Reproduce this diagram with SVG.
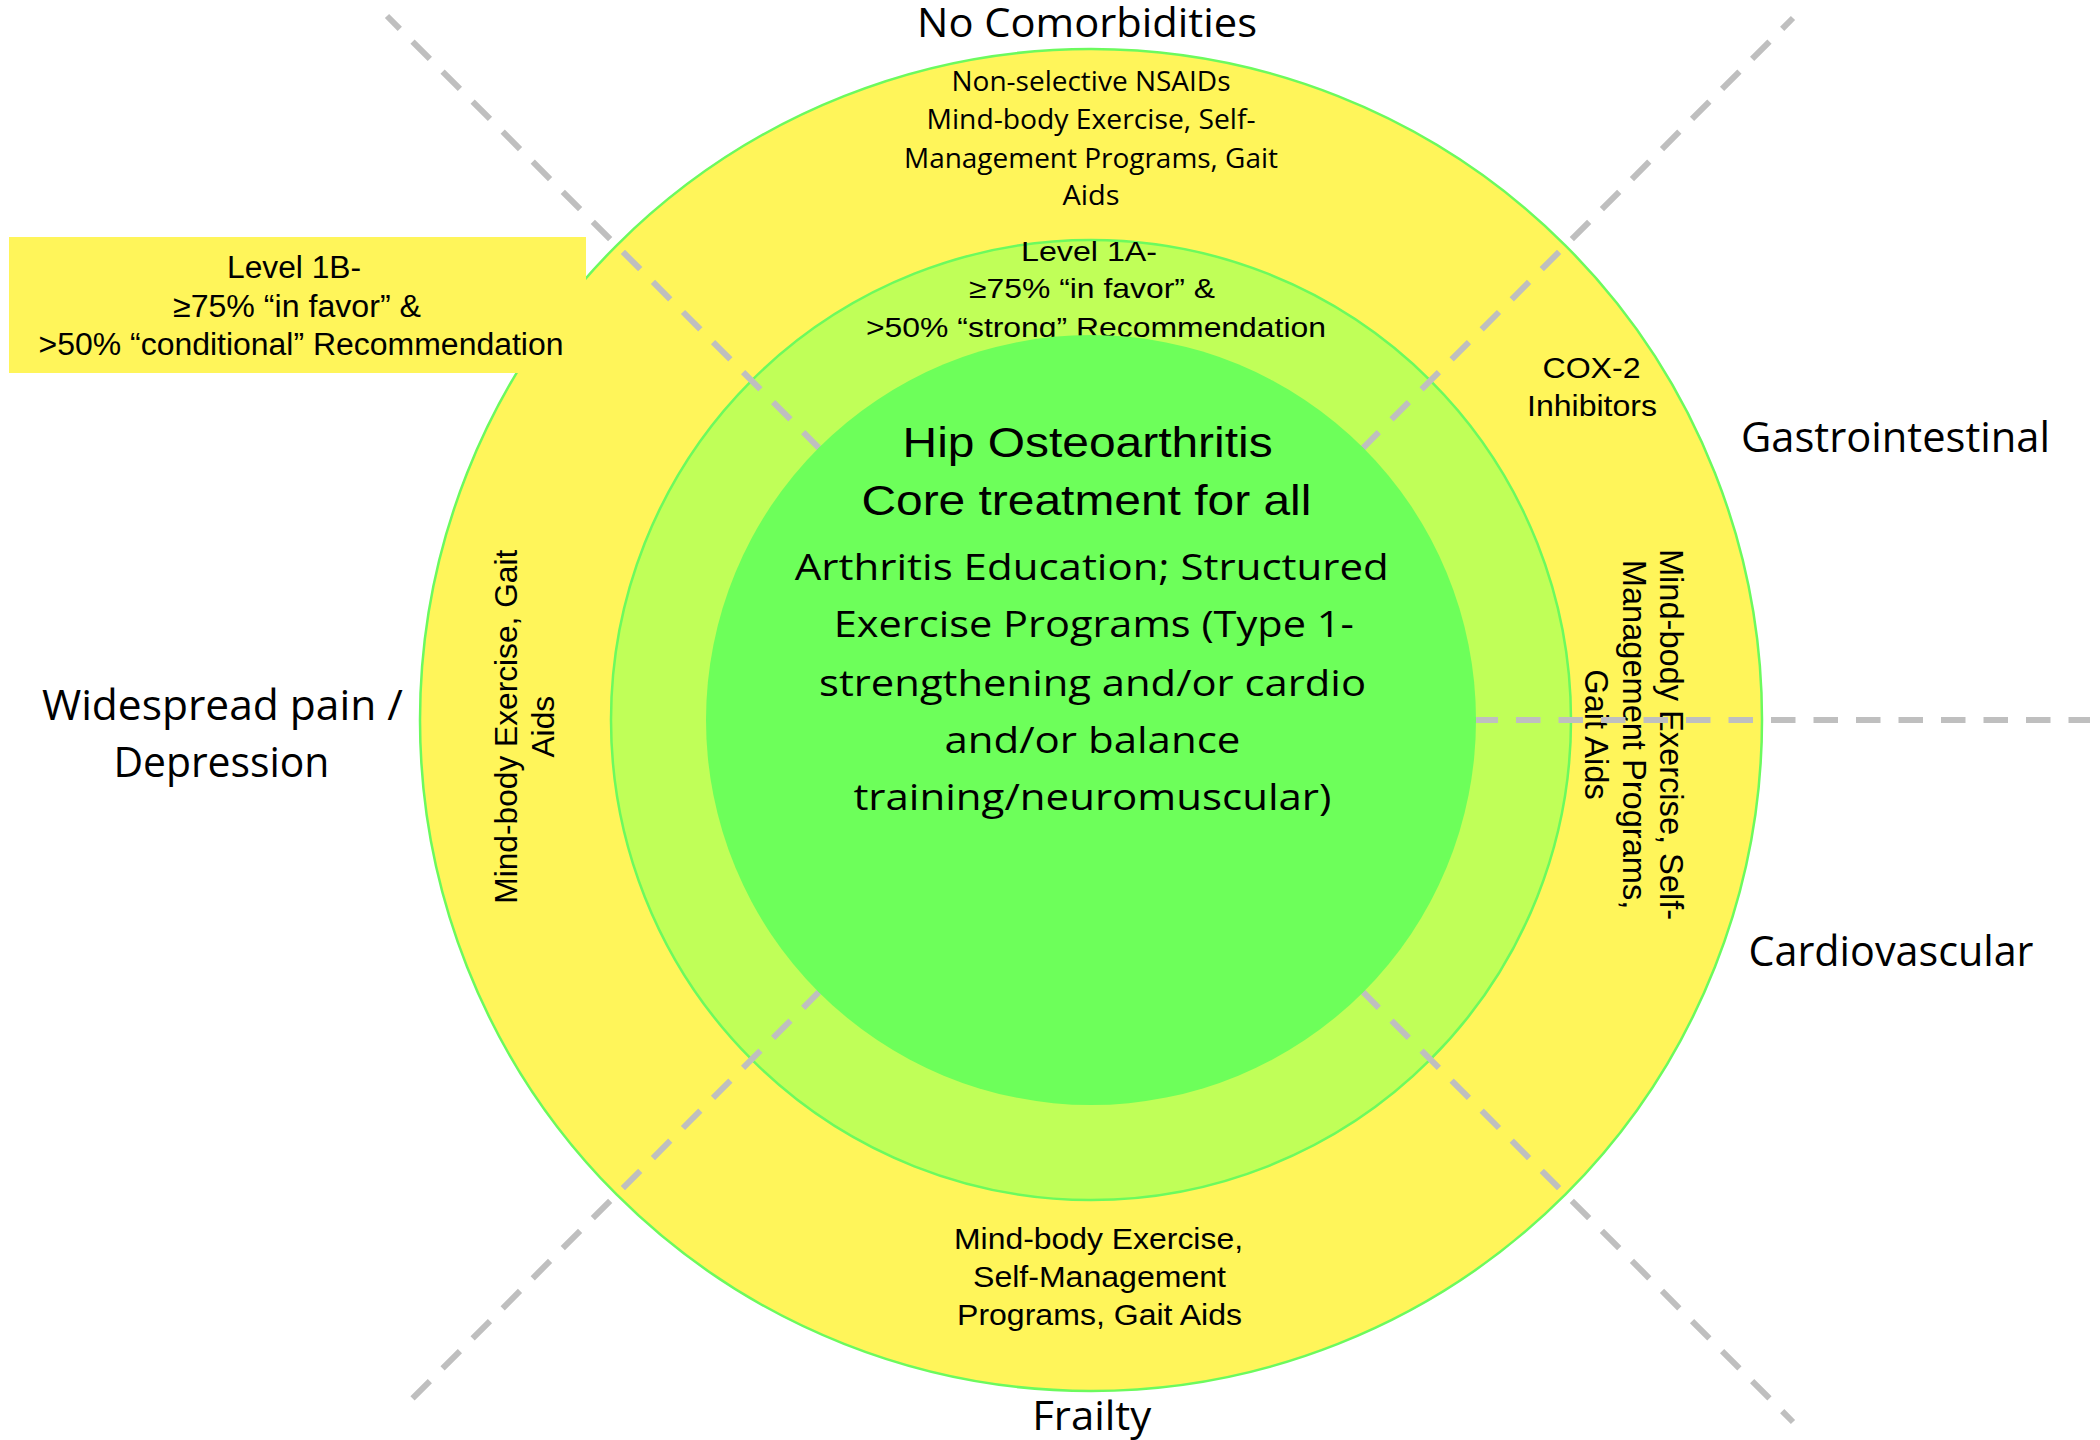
<svg xmlns="http://www.w3.org/2000/svg" width="2100" height="1440" viewBox="0 0 2100 1440">
<style>
.cal{font-family:"Open Sans","Liberation Sans",sans-serif;fill:#000;text-anchor:middle}
.ar{font-family:"Liberation Sans",Arial,sans-serif;fill:#000;text-anchor:middle}
.dash{stroke:#BFBFBF;stroke-width:6;stroke-dasharray:24.5 18;fill:none}
.ring{stroke:#6CFA5E;stroke-width:2.5}
</style>
<rect width="2100" height="1440" fill="#FFFFFF"/>

<g id="ring-outer">
  <circle class="ring" cx="1091" cy="720" r="671" fill="#FFF55A"/>
</g>

<g id="level-1b-box">
  <rect x="9" y="237" width="577" height="136" fill="#FFF55A"/>
  <text class="ar" font-size="31" x="294" y="278.3" textLength="134" lengthAdjust="spacingAndGlyphs">Level 1B-</text>
  <text class="ar" font-size="31" x="297" y="316.7" textLength="248" lengthAdjust="spacingAndGlyphs">≥75% “in favor” &amp;</text>
  <text class="ar" font-size="31" x="301" y="355" textLength="525" lengthAdjust="spacingAndGlyphs">&gt;50% “conditional” Recommendation</text>
</g>

<g id="ring-middle">
  <circle class="ring" cx="1091" cy="720" r="480" fill="#C0FF58"/>
</g>

<g id="outer-top-text">
  <text class="cal" font-size="27.6" x="1091" y="90.7" textLength="279" lengthAdjust="spacingAndGlyphs">Non-selective NSAIDs</text>
  <text class="cal" font-size="27.6" x="1091" y="129" textLength="329" lengthAdjust="spacingAndGlyphs">Mind-body Exercise, Self-</text>
  <text class="cal" font-size="27.6" x="1091" y="167.7" textLength="374" lengthAdjust="spacingAndGlyphs">Management Programs, Gait</text>
  <text class="cal" font-size="27.6" x="1091" y="205" textLength="57" lengthAdjust="spacingAndGlyphs">Aids</text>
</g>

<g id="outer-right-top-text">
  <text class="ar" font-size="30" x="1591.5" y="378.3" textLength="98" lengthAdjust="spacingAndGlyphs">COX-2</text>
  <text class="ar" font-size="30" x="1592" y="416" textLength="130" lengthAdjust="spacingAndGlyphs">Inhibitors</text>
</g>

<g id="outer-right-text" transform="translate(1660,734.5) rotate(90)">
  <text class="ar" font-size="32.6" x="0" y="0">Mind-body Exercise, Self-</text>
  <text class="ar" font-size="32.6" x="0" y="37.5">Management Programs,</text>
  <text class="ar" font-size="32.6" x="0" y="75">Gait Aids</text>
</g>

<g id="outer-left-text" transform="translate(517,726.7) rotate(-90)">
  <text class="ar" font-size="31.7" x="0" y="0">Mind-body Exercise, Gait</text>
  <text class="ar" font-size="31.7" x="0" y="37">Aids</text>
</g>

<g id="outer-bottom-text">
  <text class="ar" font-size="29.5" x="1098.5" y="1249.3" textLength="289" lengthAdjust="spacingAndGlyphs">Mind-body Exercise,</text>
  <text class="ar" font-size="29.5" x="1099.5" y="1287.3" textLength="253" lengthAdjust="spacingAndGlyphs">Self-Management</text>
  <text class="ar" font-size="29.5" x="1099.5" y="1325" textLength="285" lengthAdjust="spacingAndGlyphs">Programs, Gait Aids</text>
</g>

<g id="level-1a-text">
  <text class="ar" font-size="27.5" x="1089" y="261" textLength="136" lengthAdjust="spacingAndGlyphs">Level 1A-</text>
  <text class="ar" font-size="27.5" x="1092" y="297.7" textLength="246" lengthAdjust="spacingAndGlyphs">≥75% “in favor” &amp;</text>
  <text class="ar" font-size="27.5" x="1096" y="336.7" textLength="460" lengthAdjust="spacingAndGlyphs">&gt;50% “strong” Recommendation</text>
</g>

<g id="connectors">
  <line class="dash" x1="1091" y1="720" x2="387" y2="16"/>
  <line class="dash" x1="1091" y1="720" x2="1793" y2="18"/>
  <line class="dash" x1="1091" y1="720" x2="2090" y2="720"/>
  <line class="dash" x1="1091" y1="720" x2="407" y2="1404"/>
  <line class="dash" x1="1091" y1="720" x2="1793" y2="1422"/>
</g>

<g id="core">
  <circle cx="1091" cy="720" r="385" fill="#6DFF5A"/>
  <text class="ar" font-size="43" x="1087.6" y="457.3" textLength="370" lengthAdjust="spacingAndGlyphs">Hip Osteoarthritis</text>
  <text class="ar" font-size="43" x="1086.4" y="515" textLength="450" lengthAdjust="spacingAndGlyphs">Core treatment for all</text>
  <text class="cal" font-size="36.4" x="1091.8" y="580" textLength="594" lengthAdjust="spacingAndGlyphs">Arthritis Education; Structured</text>
  <text class="cal" font-size="36.4" x="1093.8" y="637.3" textLength="520" lengthAdjust="spacingAndGlyphs">Exercise Programs (Type 1-</text>
  <text class="cal" font-size="36.4" x="1092.5" y="696" textLength="547" lengthAdjust="spacingAndGlyphs">strengthening and/or cardio</text>
  <text class="cal" font-size="36.4" x="1092.4" y="752.7" textLength="296" lengthAdjust="spacingAndGlyphs">and/or balance</text>
  <text class="cal" font-size="36.4" x="1092.4" y="810" textLength="478" lengthAdjust="spacingAndGlyphs">training/neuromuscular)</text>
</g>

<g id="label-no-comorbidities">
  <text class="cal" font-size="39.6" x="1087" y="37" textLength="340" lengthAdjust="spacingAndGlyphs">No Comorbidities</text>
</g>
<g id="label-gastrointestinal">
  <text class="cal" font-size="42" x="1895.5" y="452" textLength="309" lengthAdjust="spacingAndGlyphs">Gastrointestinal</text>
</g>
<g id="label-cardiovascular">
  <text class="cal" font-size="41.5" x="1891" y="966" textLength="285" lengthAdjust="spacingAndGlyphs">Cardiovascular</text>
</g>
<g id="label-widespread">
  <text class="cal" font-size="42" x="222.4" y="720" textLength="361" lengthAdjust="spacingAndGlyphs">Widespread pain /</text>
  <text class="cal" font-size="42" x="221.4" y="776.7" textLength="216" lengthAdjust="spacingAndGlyphs">Depression</text>
</g>
<g id="label-frailty">
  <text class="cal" font-size="39.6" x="1091.7" y="1430" textLength="119" lengthAdjust="spacingAndGlyphs">Frailty</text>
</g>
</svg>
